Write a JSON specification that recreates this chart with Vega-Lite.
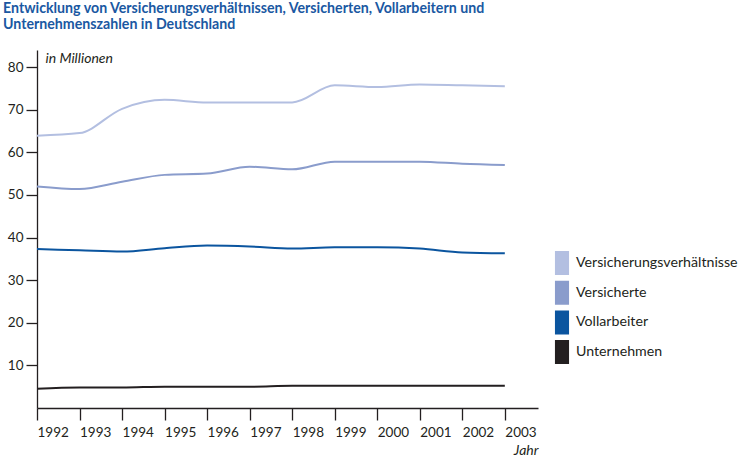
{
  "$schema": "https://vega.github.io/schema/vega-lite/v6.json",
  "width": 501,
  "height": 358,
  "autosize": "none",
  "padding": {"left": 37, "top": 50, "right": 202, "bottom": 51},
  "background": "white",
  "title": {
    "text": ["Entwicklung von Versicherungsverhältnissen, Versicherten, Vollarbeitern und", "Unternehmenszahlen in Deutschland"],
    "anchor": "start",
    "frame": "group",
    "dx": -34,
    "offset": 18,
    "font": "Lato",
    "fontSize": 14.2,
    "fontWeight": "bold",
    "color": "#1a58a2",
    "lineHeight": 16
  },
  "config": {
    "view": {"stroke": null},
    "font": "Lato"
  },
  "data": {
    "values": [
      {"Jahr": 1992, "Serie": "Versicherungsverhältnisse", "Wert": 63.9},
      {"Jahr": 1993, "Serie": "Versicherungsverhältnisse", "Wert": 64.5},
      {"Jahr": 1994, "Serie": "Versicherungsverhältnisse", "Wert": 70.2},
      {"Jahr": 1995, "Serie": "Versicherungsverhältnisse", "Wert": 72.3},
      {"Jahr": 1996, "Serie": "Versicherungsverhältnisse", "Wert": 71.7},
      {"Jahr": 1997, "Serie": "Versicherungsverhältnisse", "Wert": 71.7},
      {"Jahr": 1998, "Serie": "Versicherungsverhältnisse", "Wert": 71.7},
      {"Jahr": 1999, "Serie": "Versicherungsverhältnisse", "Wert": 75.7},
      {"Jahr": 2000, "Serie": "Versicherungsverhältnisse", "Wert": 75.3},
      {"Jahr": 2001, "Serie": "Versicherungsverhältnisse", "Wert": 75.9},
      {"Jahr": 2002, "Serie": "Versicherungsverhältnisse", "Wert": 75.7},
      {"Jahr": 2003, "Serie": "Versicherungsverhältnisse", "Wert": 75.5},
      {"Jahr": 1992, "Serie": "Versicherte", "Wert": 52.0},
      {"Jahr": 1993, "Serie": "Versicherte", "Wert": 51.4},
      {"Jahr": 1994, "Serie": "Versicherte", "Wert": 53.1},
      {"Jahr": 1995, "Serie": "Versicherte", "Wert": 54.7},
      {"Jahr": 1996, "Serie": "Versicherte", "Wert": 55.0},
      {"Jahr": 1997, "Serie": "Versicherte", "Wert": 56.6},
      {"Jahr": 1998, "Serie": "Versicherte", "Wert": 56.0},
      {"Jahr": 1999, "Serie": "Versicherte", "Wert": 57.8},
      {"Jahr": 2000, "Serie": "Versicherte", "Wert": 57.8},
      {"Jahr": 2001, "Serie": "Versicherte", "Wert": 57.8},
      {"Jahr": 2002, "Serie": "Versicherte", "Wert": 57.3},
      {"Jahr": 2003, "Serie": "Versicherte", "Wert": 57.0},
      {"Jahr": 1992, "Serie": "Vollarbeiter", "Wert": 37.3},
      {"Jahr": 1993, "Serie": "Vollarbeiter", "Wert": 37.0},
      {"Jahr": 1994, "Serie": "Vollarbeiter", "Wert": 36.7},
      {"Jahr": 1995, "Serie": "Vollarbeiter", "Wert": 37.5},
      {"Jahr": 1996, "Serie": "Vollarbeiter", "Wert": 38.1},
      {"Jahr": 1997, "Serie": "Vollarbeiter", "Wert": 37.9},
      {"Jahr": 1998, "Serie": "Vollarbeiter", "Wert": 37.4},
      {"Jahr": 1999, "Serie": "Vollarbeiter", "Wert": 37.7},
      {"Jahr": 2000, "Serie": "Vollarbeiter", "Wert": 37.7},
      {"Jahr": 2001, "Serie": "Vollarbeiter", "Wert": 37.4},
      {"Jahr": 2002, "Serie": "Vollarbeiter", "Wert": 36.5},
      {"Jahr": 2003, "Serie": "Vollarbeiter", "Wert": 36.3},
      {"Jahr": 1992, "Serie": "Unternehmen", "Wert": 4.5},
      {"Jahr": 1993, "Serie": "Unternehmen", "Wert": 4.8},
      {"Jahr": 1994, "Serie": "Unternehmen", "Wert": 4.8},
      {"Jahr": 1995, "Serie": "Unternehmen", "Wert": 5.0},
      {"Jahr": 1996, "Serie": "Unternehmen", "Wert": 5.0},
      {"Jahr": 1997, "Serie": "Unternehmen", "Wert": 5.0},
      {"Jahr": 1998, "Serie": "Unternehmen", "Wert": 5.2},
      {"Jahr": 1999, "Serie": "Unternehmen", "Wert": 5.2},
      {"Jahr": 2000, "Serie": "Unternehmen", "Wert": 5.2},
      {"Jahr": 2001, "Serie": "Unternehmen", "Wert": 5.2},
      {"Jahr": 2002, "Serie": "Unternehmen", "Wert": 5.2},
      {"Jahr": 2003, "Serie": "Unternehmen", "Wert": 5.2}
    ]
  },
  "mark": {"type": "line", "interpolate": "monotone"},
  "encoding": {
    "x": {
      "field": "Jahr",
      "type": "quantitative",
      "scale": {"domain": [1992, 2003.78], "nice": false, "zero": false},
      "axis": {
        "values": [1992, 1993, 1994, 1995, 1996, 1997, 1998, 1999, 2000, 2001, 2002, 2003],
        "format": "d",
        "grid": false,
        "domainColor": "#231f20",
        "domainWidth": 1.3,
        "tickColor": "#231f20",
        "tickWidth": 1.3,
        "tickSize": 12,
        "labelAlign": "left",
        "labelBaseline": "top",
        "labelPadding": 5,
        "labelFlush": false,
        "labelFont": "Lato",
        "labelFontSize": 13.5,
        "labelColor": "#231f20",
        "title": "Jahr",
        "titleFont": "Lato",
        "titleFontSize": 14,
        "titleFontStyle": "italic",
        "titleFontWeight": "normal",
        "titleColor": "#231f20",
        "titleAlign": "right",
        "titleBaseline": "alphabetic",
        "titleX": 501,
        "titleY": 46
      }
    },
    "y": {
      "field": "Wert",
      "type": "quantitative",
      "scale": {"domain": [0, 84], "nice": false},
      "axis": {
        "values": [10, 20, 30, 40, 50, 60, 70, 80],
        "grid": false,
        "domainColor": "#231f20",
        "domainWidth": 1.3,
        "tickColor": "#231f20",
        "tickWidth": 1.3,
        "tickSize": 11,
        "labelPadding": 3,
        "labelFont": "Lato",
        "labelFontSize": 13.5,
        "labelColor": "#231f20",
        "title": "in Millionen",
        "titleFont": "Lato",
        "titleFontSize": 14,
        "titleFontStyle": "italic",
        "titleFontWeight": "normal",
        "titleColor": "#231f20",
        "titleAngle": 0,
        "titleAlign": "left",
        "titleBaseline": "alphabetic",
        "titleX": 8,
        "titleY": 12
      }
    },
    "color": {
      "field": "Serie",
      "type": "nominal",
      "scale": {
        "domain": ["Versicherungsverhältnisse", "Versicherte", "Vollarbeiter", "Unternehmen"],
        "range": ["#b3bfe1", "#8a9ccc", "#0b559f", "#231f20"]
      },
      "legend": {
        "title": null,
        "orient": "none",
        "legendX": 513,
        "legendY": 201,
        "padding": 0,
        "symbolType": "M-0.55,-1L0.55,-1L0.55,1L-0.55,1Z",
        "symbolSize": 484,
        "symbolStrokeWidth": 0,
        "symbolOpacity": 1,
        "labelFont": "Lato",
        "labelFontSize": 14.2,
        "labelColor": "#231f20",
        "labelOffset": 2,
        "labelLimit": 300,
        "rowPadding": -0.3,
        "encode": {
          "symbols": {
            "update": {
              "fill": {"scale": "color", "field": "value"},
              "strokeWidth": {"value": 0}
            }
          }
        }
      }
    },
    "strokeWidth": {
      "field": "Serie",
      "type": "nominal",
      "scale": {
        "domain": ["Versicherungsverhältnisse", "Versicherte", "Vollarbeiter", "Unternehmen"],
        "range": [2, 2, 2.6, 1.1]
      },
      "legend": null
    }
  }
}
